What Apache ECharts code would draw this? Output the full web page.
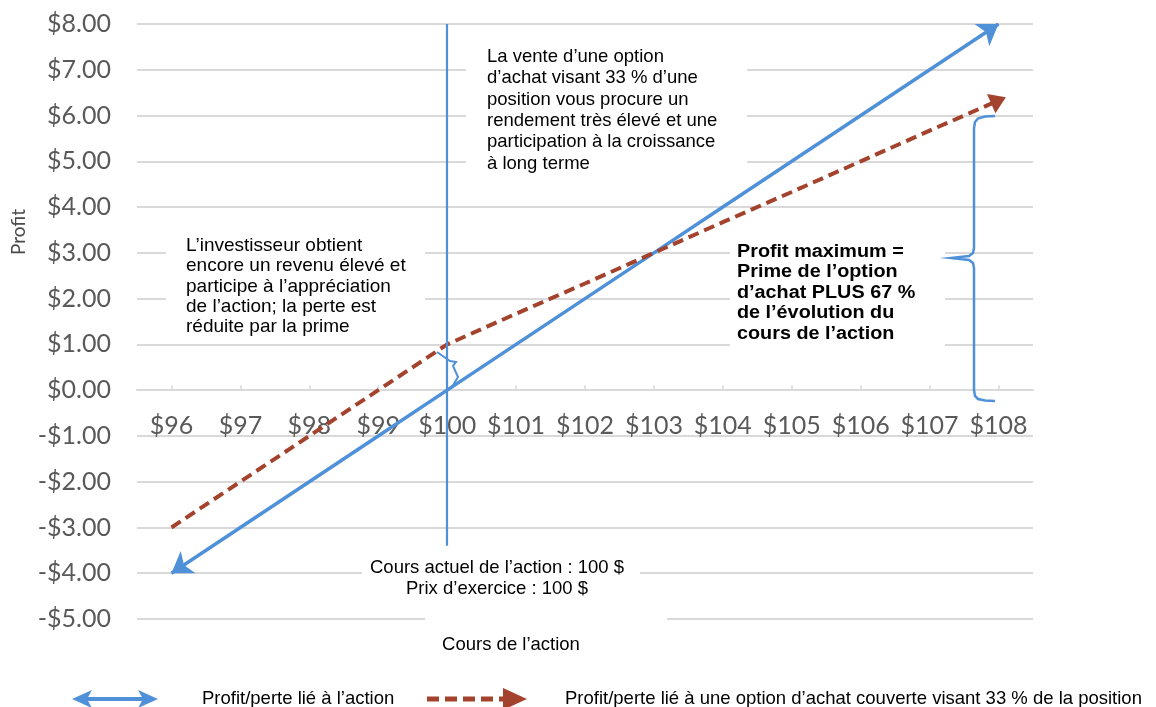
<!DOCTYPE html>
<html>
<head>
<meta charset="utf-8">
<script src="https://cdn.jsdelivr.net/npm/echarts@6/dist/echarts.min.js"></script>
<style>
html,body{margin:0;padding:0;background:#fff;}
#chart{width:1156px;height:707px;}
</style>
</head>
<body>
<div id="chart"></div>
<script>
// ---- data ----
const categories = ['$96','$97','$98','$99','$100','$101','$102','$103','$104','$105','$106','$107','$108'];
const stockPL   = [-4,-3,-2,-1,0,1,2,3,4,5,6,7,8];
const coveredPL = [-3,-2,-1,0,1,1.67,2.33,3,3.67,4.33,5,5.67,6.33];
const strikeCategory = '$100';
const strikeLineTop = 8;
const strikeLineBottom = -3.4;
const yMin = -5, yMax = 8, yStep = 1;

const seriesNames = ['Profit/perte lié à l’action',
  'Profit/perte lié à une option d’achat couverte visant 33 % de la position'];

const noteTopLines = ['La vente d’une option','d’achat visant 33 % d’une','position vous procure un',
  'rendement très élevé et une','participation à la croissance','à long terme'];
const noteLeftLines = ['L’investisseur obtient','encore un revenu élevé et','participe à l’appréciation',
  'de l’action; la perte est','réduite par la prime'];
const noteBoldLines = ['Profit maximum =','Prime de l’option','d’achat PLUS 67 %','de l’évolution du','cours de l’action'];
const noteBottomLines = ['Cours actuel de l’action : 100 $','Prix d’exercice : 100 $'];
const xTitle = 'Cours de l’action';
const yTitle = 'Profit';

// ---- layout / style ----
const W = 1156, H = 707;
const GRID_TOP = 24, GRID_BOTTOM = 88, GRID_LEFT = 137, GRID_RIGHT = 123;
const gridHeight = H - GRID_TOP - GRID_BOTTOM;
// move the category axis (line, ticks and labels) up to the zero level
const zeroOffset = -gridHeight * (0 - yMin) / (yMax - yMin);

const BLUE = '#4F91D8';
const RED = '#A3432D';
const GRID = '#D9D9D9';
const AXIS_TXT = '#595959';
const TXT_FONT = '"Liberation Sans", Arial, sans-serif';
const AX_FONT = 'Lato, "Open Sans", sans-serif';

function fmtMoney(v){
  return (v < 0 ? '-' : '') + '$' + Math.abs(v).toFixed(2);
}

function textBlock(lines, x, y0, lh, font, sx){
  return lines.map((t,i)=>({
    type:'text', z: 5,
    x: x, y: y0 + i*lh, scaleX: sx || 1,
    style: {text:t, fill:'#000', font: font, textVerticalAlign:'middle', textAlign:'left'}
  }));
}
function whiteRect(x,y,w,h){
  return {type:'rect', z:1, shape:{x:x,y:y,width:w,height:h}, style:{fill:'#fff'}, silent:true};
}

const chart = echarts.init(document.getElementById('chart'), null, {renderer:'canvas'});

const bigBrace = [[995,116],[985,116.5],[978,118.5],[975,122],[974,128],[974,248],[973,253],[969,256],[951,258],
                  [969,260],[973,263],[974,268],[974,390],[975,396],[978,399],[985,400.5],[995,401]];
const smallBrace = [[437,352],[450,361],[456,362],[453,366],[458,377],[452,387]];

const graphics = [
  // white text-box backgrounds covering grid lines
  whiteRect(466, 36, 281, 150),
  whiteRect(166, 230, 259, 110),
  whiteRect(730, 234, 215, 116),
  whiteRect(362, 548, 278, 56),
  whiteRect(425, 606, 242, 22),
  ...textBlock(noteTopLines, 487, 57, 21.3, '18.5px ' + TXT_FONT),
  ...textBlock(noteLeftLines, 186, 246, 20.2, '19px ' + TXT_FONT),
  ...textBlock(noteBoldLines, 737, 252, 20.5, 'bold 18px ' + TXT_FONT, 1.1),
  ...noteBottomLines.map((t,i)=>({type:'text', z:5, x:497, y:568 + i*21,
     style:{text:t, fill:'#000', font:'18.5px ' + TXT_FONT, textAlign:'center', textVerticalAlign:'middle'}})),
  {type:'text', z:5, x:511, y:645, style:{text:xTitle, fill:'#000', font:'18.5px ' + TXT_FONT, textAlign:'center', textVerticalAlign:'middle'}},
  {type:'text', z:5, x:19, y:232, rotation:Math.PI/2,
   style:{text:yTitle, fill:'#4a4a4a', font:'19px ' + AX_FONT, textAlign:'center', textVerticalAlign:'middle'}},
  // big brace on right
  {type:'polyline', z:4, shape:{points:bigBrace}, style:{stroke:BLUE, lineWidth:2.5, fill:null}},
  // small brace at strike
  {type:'polyline', z:4, shape:{points:smallBrace}, style:{stroke:BLUE, lineWidth:2, fill:null}},
  // legend
  {type:'line', z:5, shape:{x1:82,y1:699,x2:148,y2:699}, style:{stroke:BLUE, lineWidth:4}},
  {type:'polygon', z:5, shape:{points:[[72,699],[92,690],[87,699],[92,708]]}, style:{fill:BLUE}},
  {type:'polygon', z:5, shape:{points:[[158,699],[138,690],[143,699],[138,708]]}, style:{fill:BLUE}},
  {type:'text', z:5, x:202, y:699, style:{text:seriesNames[0], fill:'#000', font:'18.5px ' + TXT_FONT, textVerticalAlign:'middle'}},
  {type:'line', z:5, shape:{x1:427,y1:699,x2:505,y2:699}, style:{stroke:RED, lineWidth:5, lineDash:[12,6]}},
  {type:'polygon', z:5, shape:{points:[[503,688],[527,699],[503,710]]}, style:{fill:RED}},
  {type:'text', z:5, x:565, y:699, style:{text:seriesNames[1], fill:'#000', font:'18.5px ' + TXT_FONT, textVerticalAlign:'middle'}}
];

const option = {
  animation:false,
  backgroundColor:'#fff',
  grid:{left:GRID_LEFT, right:GRID_RIGHT, top:GRID_TOP, bottom:GRID_BOTTOM, containLabel:false},
  xAxis:{
    type:'category', data:categories, boundaryGap:true, position:'bottom', offset: zeroOffset,
    axisLine:{onZero:false, lineStyle:{color:GRID, width:2}},
    axisTick:{show:true, inside:true, length:5, alignWithLabel:true, interval:0, lineStyle:{color:GRID, width:1.5}},
    axisLabel:{color:AXIS_TXT, fontFamily:AX_FONT, fontSize:25, margin:23, interval:0},
    splitLine:{show:false}
  },
  yAxis:{
    type:'value', min:yMin, max:yMax, interval:yStep,
    axisLine:{show:false}, axisTick:{show:false},
    axisLabel:{color:AXIS_TXT, fontFamily:AX_FONT, fontSize:25, margin:26, formatter:fmtMoney},
    splitLine:{lineStyle:{color:GRID, width:2}}
  },
  graphic: graphics,
  series:[
    {
      name:'strike', type:'line', data:stockPL, symbol:'none', z:2,
      lineStyle:{opacity:0},
      markLine:{
        silent:true, symbol:['none','none'], label:{show:false},
        lineStyle:{color:BLUE, width:2.2, type:'solid', opacity:1},
        data:[[{coord:[strikeCategory, strikeLineTop]},{coord:[strikeCategory, strikeLineBottom]}]]
      }
    },
    {
      name:seriesNames[0], type:'line', data:stockPL, symbol:'none', z:3,
      lineStyle:{color:BLUE, width:3.5},
      markLine:{
        silent:true, symbol:['none','arrow'], symbolSize:[20,20],
        label:{show:false},
        lineStyle:{color:BLUE, width:0, type:'solid'},
        data:[
          [{coord:[categories[1], stockPL[1]]},{coord:[categories[0], stockPL[0]]}],
          [{coord:[categories[11], stockPL[11]]},{coord:[categories[12], stockPL[12]]}]
        ]
      }
    },
    {
      name:seriesNames[1], type:'line', data:coveredPL, symbol:'none', z:3,
      lineStyle:{color:RED, width:4, type:[11,6]},
      markLine:{
        silent:true, symbol:['none','triangle'], symbolSize:[21,16],
        label:{show:false},
        lineStyle:{color:RED, width:0, type:'solid'},
        data:[
          [{coord:[categories[11], coveredPL[11]]},{coord:[categories[12], coveredPL[12]]}]
        ]
      }
    }
  ]
};
chart.setOption(option);
</script>
</body>
</html>
